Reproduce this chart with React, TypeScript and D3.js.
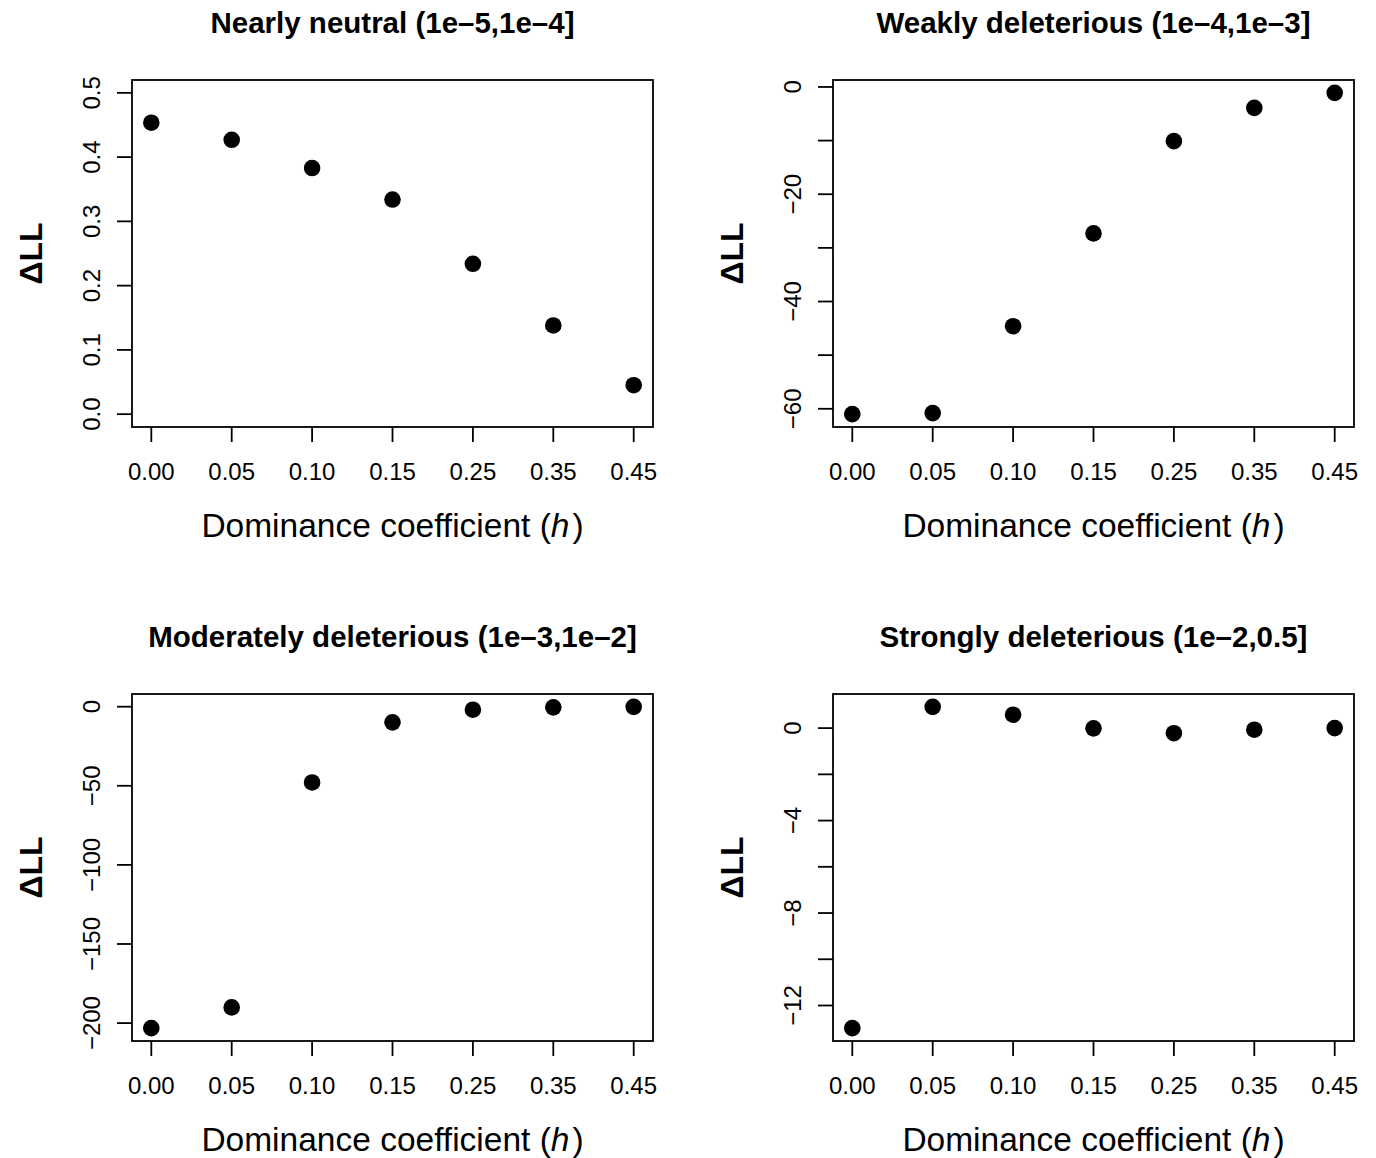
import React from 'react';
import * as d3 from 'd3';

// values
const hLabels = ['0.00', '0.05', '0.10', '0.15', '0.25', '0.35', '0.45'];

const nearlyNeutral = [0.4535, 0.427, 0.383, 0.334, 0.234, 0.138, 0.045];
const weaklyDeleterious = [-61.0, -60.8, -44.6, -27.3, -10.1, -3.9, -1.1];
const moderatelyDeleterious = [-203.2, -190.1, -47.9, -9.9, -1.9, -0.4, -0.1];
const stronglyDeleterious = [-12.98, 0.92, 0.58, -0.01, -0.22, -0.07, 0.0];

const titles = [
  'Nearly neutral (1e–5,1e–4]',
  'Weakly deleterious (1e–4,1e–3]',
  'Moderately deleterious (1e–3,1e–2]',
  'Strongly deleterious (1e–2,0.5]',
];

// tick values and which of them carry a label
const ticks1 = [0, 0.1, 0.2, 0.3, 0.4, 0.5];
const labels1 = ['0.0', '0.1', '0.2', '0.3', '0.4', '0.5'];
const ticks2 = [0, -10, -20, -30, -40, -50, -60];
const labels2 = ['0', '', '−20', '', '−40', '', '−60'];
const ticks3 = [0, -50, -100, -150, -200];
const labels3 = ['0', '−50', '−100', '−150', '−200'];
const ticks4 = [0, -2, -4, -6, -8, -10, -12];
const labels4 = ['0', '', '−4', '', '−8', '', '−12'];

const W = 1376;
const H = 1158;
const boxW = 521;
const boxH = 347;
const FONT = '"Liberation Sans", Arial, Helvetica, sans-serif';

// R style: extend the range 4% on each side
const pad = (lo: number, hi: number): [number, number] => {
  const r = hi - lo;
  return [lo - 0.04 * r, hi + 0.04 * r];
};

const panels = [
  { x0: 132, y0: 80, title: titles[0], values: nearlyNeutral, ticks: ticks1, labels: labels1, ylim: [0, 0.5] },
  { x0: 833, y0: 80, title: titles[1], values: weaklyDeleterious, ticks: ticks2, labels: labels2, ylim: null },
  { x0: 132, y0: 694, title: titles[2], values: moderatelyDeleterious, ticks: ticks3, labels: labels3, ylim: null },
  { x0: 833, y0: 694, title: titles[3], values: stronglyDeleterious, ticks: ticks4, labels: labels4, ylim: null },
];

function Panel({ p }: { p: (typeof panels)[number] }) {
  const { x0, y0 } = p;
  const x = d3.scalePoint<string>().domain(hLabels).range([x0, x0 + boxW]).padding(0.24);
  const ext = p.ylim ?? (d3.extent(p.values) as [number, number]);
  const y = d3.scaleLinear().domain(pad(ext[0], ext[1])).range([y0 + boxH, y0]);
  const bottom = y0 + boxH;
  const midY = y0 + boxH / 2;
  const midX = x0 + boxW / 2;

  return (
    <g>
      <text x={midX} y={y0 - 47} textAnchor="middle" fontSize={29.5} fontWeight="bold">
        {p.title}
      </text>
      <rect x={x0} y={y0} width={boxW} height={boxH} fill="none" stroke="#000" strokeWidth={1.8} />

      {/* x axis */}
      {hLabels.map((h) => (
        <g key={h}>
          <line x1={x(h)} x2={x(h)} y1={bottom} y2={bottom + 15} stroke="#000" strokeWidth={1.8} />
          <text x={x(h)} y={bottom + 53} textAnchor="middle" fontSize={24}>
            {h}
          </text>
        </g>
      ))}
      <text x={midX} y={bottom + 110} textAnchor="middle" fontSize={33.5}>
        Dominance coefficient (<tspan fontStyle="italic">h</tspan>
        <tspan dx={3}>)</tspan>
      </text>

      {/* y axis */}
      {p.ticks.map((t, i) => (
        <g key={t}>
          <line x1={x0 - 15} x2={x0} y1={y(t)} y2={y(t)} stroke="#000" strokeWidth={1.8} />
          {p.labels[i] && (
            <text
              transform={`translate(${x0 - 32},${y(t)}) rotate(-90)`}
              textAnchor="middle"
              fontSize={24}
            >
              {p.labels[i]}
            </text>
          )}
        </g>
      ))}
      <text
        transform={`translate(${x0 - 90},${midY}) rotate(-90)`}
        textAnchor="middle"
        fontSize={32}
        fontWeight="bold"
      >
        ΔLL
      </text>

      {/* points */}
      {p.values.map((v, i) => (
        <circle key={i} cx={x(hLabels[i])} cy={y(v)} r={8.3} fill="#000" />
      ))}
    </g>
  );
}

export default function App() {
  return (
    <svg
      width={W}
      height={H}
      style={{ position: 'absolute', left: 0, top: 0, background: '#fff' }}
      fontFamily={FONT}
    >
      <rect width={W} height={H} fill="#fff" />
      {panels.map((p, i) => (
        <Panel key={i} p={p} />
      ))}
    </svg>
  );
}
